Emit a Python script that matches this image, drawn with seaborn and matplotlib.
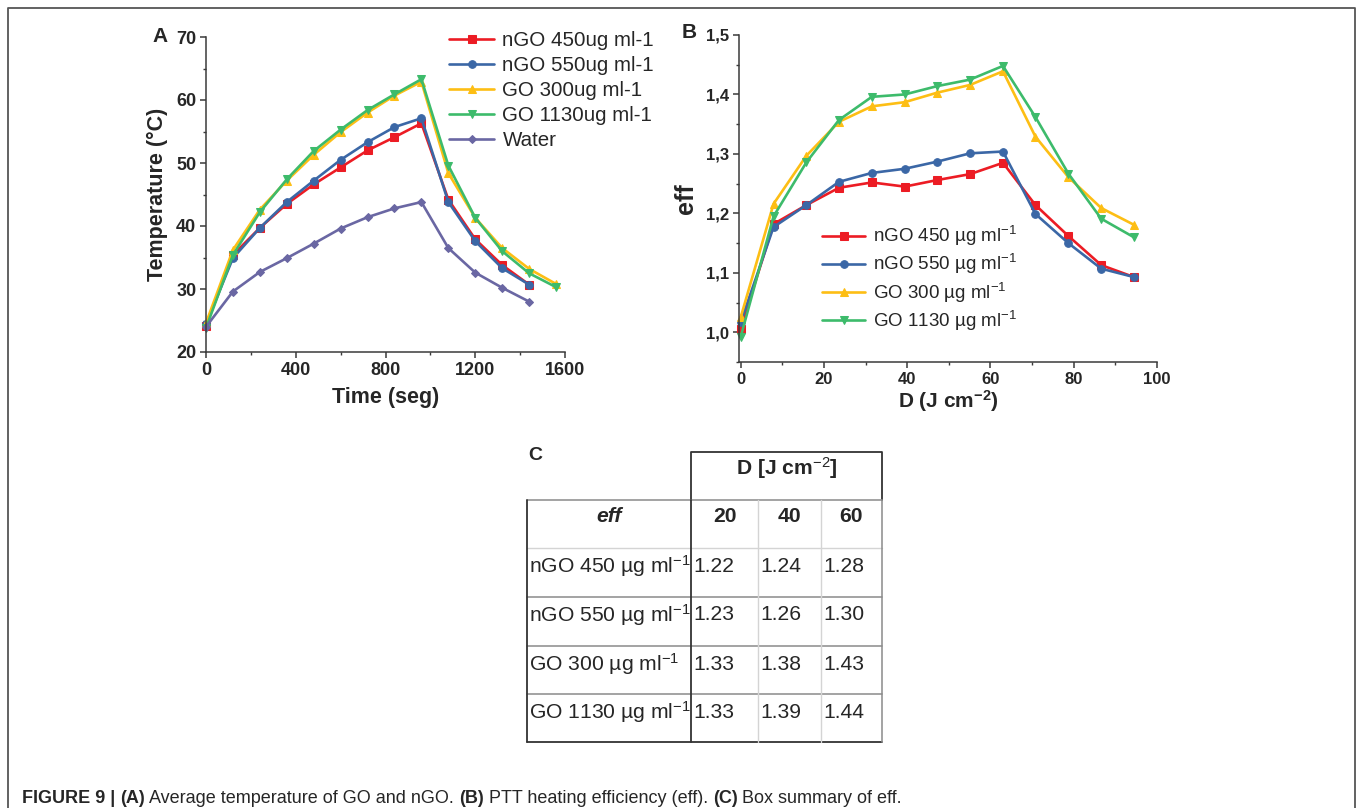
import matplotlib
matplotlib.use("Agg")
import matplotlib.pyplot as plt
import seaborn as sns
from matplotlib.ticker import MultipleLocator

# ---------------- data ----------------
# Panel A: average temperature vs time
time_s = [0, 120, 240, 360, 480, 600, 720, 840, 960, 1080, 1200, 1320, 1440]
time_go_s = [0, 120, 240, 360, 480, 600, 720, 840, 960, 1080, 1200, 1320, 1440, 1560]
temp_ngo450 = [24.2, 35.4, 39.7, 43.5, 46.6, 49.3, 52.0, 54.1, 56.3, 44.2, 37.9, 33.8, 30.7]
temp_ngo550 = [24.4, 34.9, 39.7, 43.8, 47.2, 50.5, 53.3, 55.7, 57.1, 43.8, 37.6, 33.3, 30.7]
temp_go300 = [24.6, 36.2, 42.6, 47.2, 51.3, 54.9, 58.0, 60.7, 62.9, 48.4, 41.3, 36.5, 33.2, 30.8]
temp_go1130 = [23.8, 35.4, 42.2, 47.4, 51.9, 55.3, 58.4, 60.9, 63.3, 49.6, 41.3, 36.0, 32.5, 30.3]
temp_water = [24.0, 29.6, 32.7, 34.9, 37.2, 39.6, 41.4, 42.8, 43.8, 36.5, 32.6, 30.2, 28.0]
labels_a = ["nGO 450ug ml-1", "nGO 550ug ml-1", "GO 300ug ml-1", "GO 1130ug ml-1", "Water"]

# Panel B: heating efficiency vs dose
dose = [0, 7.9, 15.8, 23.6, 31.5, 39.4, 47.2, 55.1, 63.0, 70.8, 78.7, 86.6, 94.4]
eff_ngo450 = [1.006, 1.182, 1.214, 1.243, 1.252, 1.245, 1.256, 1.266, 1.285, 1.214, 1.162, 1.113, 1.093]
eff_ngo550 = [1.017, 1.177, 1.214, 1.253, 1.268, 1.275, 1.287, 1.301, 1.304, 1.199, 1.150, 1.107, 1.093]
eff_go300 = [1.025, 1.216, 1.297, 1.354, 1.380, 1.387, 1.403, 1.416, 1.439, 1.329, 1.261, 1.209, 1.181]
eff_go1130 = [0.992, 1.195, 1.286, 1.357, 1.396, 1.400, 1.414, 1.425, 1.448, 1.362, 1.267, 1.191, 1.160]
labels_b = ["nGO 450 µg ml$^{-1}$", "nGO 550 µg ml$^{-1}$",
            "GO 300 µg ml$^{-1}$", "GO 1130 µg ml$^{-1}$"]

# Panel C: summary table
table_doses = ["20", "40", "60"]
table_rows = ["nGO 450 µg ml$^{-1}$", "nGO 550 µg ml$^{-1}$",
              "GO 300 µg ml$^{-1}$", "GO 1130 µg ml$^{-1}$"]
table_vals = [["1.22", "1.24", "1.28"],
              ["1.23", "1.26", "1.30"],
              ["1.33", "1.38", "1.43"],
              ["1.33", "1.39", "1.44"]]

caption_parts = [("FIGURE 9 | ", "bold"), ("(A)", "bold"),
                 (" Average temperature of GO and nGO. ", "normal"),
                 ("(B)", "bold"), (" PTT heating efficiency (eff). ", "normal"),
                 ("(C)", "bold"), (" Box summary of eff.", "normal")]

# ---------------- style ----------------
sns.set_theme(style="ticks")
plt.rcParams["font.family"] = ["Liberation Sans", "DejaVu Sans"]
plt.rcParams["mathtext.fontset"] = "custom"
plt.rcParams["mathtext.rm"] = "Liberation Sans"
plt.rcParams["mathtext.bf"] = "Liberation Sans:bold"
plt.rcParams["mathtext.it"] = "Liberation Sans:italic"

C_RED = "#EC1C24"
C_BLUE = "#3B67A6"
C_YEL = "#FDBE14"
C_GRN = "#3DBB6B"
C_PUR = "#6A67A3"
SPINE = "#3a3a3a"

W, H = 1357, 808
fig = plt.figure(figsize=(W / 100, H / 100), dpi=100)

# canvas layer in pixel coordinates (border, table, caption)
bg = fig.add_axes([0, 0, 1, 1])
bg.set_xlim(0, W)
bg.set_ylim(H, 0)
bg.axis("off")


def px_axes(left, top, right, bottom):
    return fig.add_axes([left / W, 1 - bottom / H, (right - left) / W, (bottom - top) / H])


def style_axes(ax, labelsize):
    for s in ("top", "right"):
        ax.spines[s].set_visible(False)
    for s in ("left", "bottom"):
        ax.spines[s].set_color(SPINE)
        ax.spines[s].set_linewidth(1.1)
    ax.tick_params(which="major", direction="out", length=4, width=1.1,
                   color=SPINE, labelsize=labelsize, pad=3)
    ax.tick_params(which="minor", direction="out", length=2.5, width=1.0, color=SPINE)


# outer frame
bg.plot([8, 8, 1355, 1355], [H + 5, 8, 8, H + 5], color="#555555", lw=1.3)

# ---------------- panel A ----------------
axA = px_axes(206, 37, 565, 352)
series_a = [(time_s, temp_ngo450, C_RED, "s"),
            (time_s, temp_ngo550, C_BLUE, "o"),
            (time_go_s, temp_go300, C_YEL, "^"),
            (time_go_s, temp_go1130, C_GRN, "v"),
            (time_s, temp_water, C_PUR, "D")]
for (x, y, c, m), lab in zip(series_a, labels_a):
    sns.lineplot(x=x, y=y, ax=axA, color=c, marker=m, markersize=5.5 if m != "D" else 4.5,
                 markeredgecolor=c, linewidth=1.9, label=lab, legend=False, clip_on=False)
axA.set_xlim(0, 1600)
axA.set_ylim(20, 70)
axA.set_xticks([0, 400, 800, 1200, 1600], ["0", "400", "800", "1200", "1600"], fontweight="bold")
axA.set_yticks([20, 30, 40, 50, 60, 70], ["20", "30", "40", "50", "60", "70"], fontweight="bold")
axA.xaxis.set_minor_locator(MultipleLocator(200))
axA.yaxis.set_minor_locator(MultipleLocator(5))
style_axes(axA, 13)
axA.set_xlabel("Time (seg)", fontsize=15.5, fontweight="bold", labelpad=6)
axA.set_ylabel("Temperature (°C)", fontsize=15.5, fontweight="bold", labelpad=6)
axA.legend(loc="upper left", bbox_to_anchor=(449 / W, 1 - 31 / H), bbox_transform=fig.transFigure,
           frameon=False, borderpad=0, borderaxespad=0, handlelength=2.2, handletextpad=0.4,
           labelspacing=0.29, fontsize=14.8)
fig.text(152 / W, 1 - 37 / H, "A", fontsize=15, fontweight="bold", va="center", ha="left")

# ---------------- panel B ----------------
axB = px_axes(739, 35, 1157, 362)
series_b = [(eff_ngo450, C_RED, "s"), (eff_ngo550, C_BLUE, "o"),
            (eff_go300, C_YEL, "^"), (eff_go1130, C_GRN, "v")]
for (y, c, m), lab in zip(series_b, labels_b):
    sns.lineplot(x=dose, y=y, ax=axB, color=c, marker=m, markersize=5.5,
                 markeredgecolor=c, linewidth=1.9, label=lab, legend=False, clip_on=False)
axB.set_xlim(-0.4, 100)
axB.set_ylim(0.95, 1.5)
axB.set_xticks([0, 20, 40, 60, 80, 100], ["0", "20", "40", "60", "80", "100"], fontweight="bold")
yt = [1.0, 1.1, 1.2, 1.3, 1.4, 1.5]
axB.set_yticks(yt, [f"{v:.1f}".replace(".", ",") for v in yt], fontweight="bold")
axB.xaxis.set_minor_locator(MultipleLocator(10))
axB.yaxis.set_minor_locator(MultipleLocator(0.05))
style_axes(axB, 12)
axB.set_xlabel(r"D (J cm$^{\mathbf{-2}}$)", fontsize=15, fontweight="bold", labelpad=1)
axB.set_ylabel("eff", fontsize=18, fontweight="bold", labelpad=6)
axB.legend(loc="upper left", bbox_to_anchor=(822 / W, 1 - 224 / H), bbox_transform=fig.transFigure,
           frameon=False, borderpad=0, borderaxespad=0, handlelength=2.3, handletextpad=0.4,
           labelspacing=0.22, fontsize=13.5)
fig.text(682 / W, 1 - 33 / H, "B", fontsize=15, fontweight="bold", va="center", ha="left")

# ---------------- panel C: table ----------------
col_x = [527, 691, 758, 821, 882]
row_y = [500, 548, 597, 646, 694, 742]
head_top = 452
DARK, MID, LIGHT = "#333333", "#8a8a8a", "#d4d4d4"

# header box over the dose columns
bg.plot([col_x[1], col_x[1], col_x[4], col_x[4]], [row_y[0], head_top, head_top, row_y[0]],
        color=DARK, lw=1.3)
# horizontal rules
bg.plot([col_x[0], col_x[4]], [row_y[0], row_y[0]], color=MID, lw=1.1)
bg.plot([col_x[0], col_x[4]], [row_y[1], row_y[1]], color=LIGHT, lw=1.0)
for yy in row_y[2:5]:
    bg.plot([col_x[0], col_x[4]], [yy, yy], color=MID, lw=1.1)
bg.plot([col_x[0], col_x[4]], [row_y[5], row_y[5]], color=DARK, lw=1.3)
# vertical rules
bg.plot([col_x[0], col_x[0]], [row_y[0], row_y[5]], color=DARK, lw=1.3)
bg.plot([col_x[1], col_x[1]], [row_y[0], row_y[5]], color=DARK, lw=1.3)
for xx in col_x[2:4]:
    bg.plot([xx, xx], [row_y[0], row_y[5]], color=LIGHT, lw=1.0)
bg.plot([col_x[4], col_x[4]], [row_y[0], row_y[5]], color=MID, lw=1.1)

FS_T = 15.2
bg.text(528, 456, "C", fontsize=14, fontweight="bold", va="center", ha="left")
bg.text((col_x[1] + col_x[4]) / 2, 468, r"D [J cm$^{-2}$]", fontsize=FS_T, fontweight="bold",
        ha="center", va="center")
bg.text((col_x[0] + col_x[1]) / 2, 516, "eff", fontsize=FS_T, fontweight="bold", style="italic",
        ha="center", va="center")
for j, d in enumerate(table_doses):
    bg.text((col_x[j + 1] + col_x[j + 2]) / 2, 516, d, fontsize=FS_T, fontweight="bold",
            ha="center", va="center")
for i, (lab, vals) in enumerate(zip(table_rows, table_vals)):
    yc = row_y[i + 1] + 18
    bg.text(529, yc, lab, fontsize=FS_T, ha="left", va="center")
    for j, v in enumerate(vals):
        bg.text(col_x[j + 1] + 2, yc, v, fontsize=FS_T, ha="left", va="center")

# ---------------- caption ----------------
renderer = fig.canvas.get_renderer()
cx = 22
for txt, wt in caption_parts:
    t = bg.text(cx, 803, txt, fontsize=13, fontweight=wt, ha="left", va="baseline")
    bb = t.get_window_extent(renderer=renderer)
    cx += bb.width

fig.savefig("out.png", dpi=100)
